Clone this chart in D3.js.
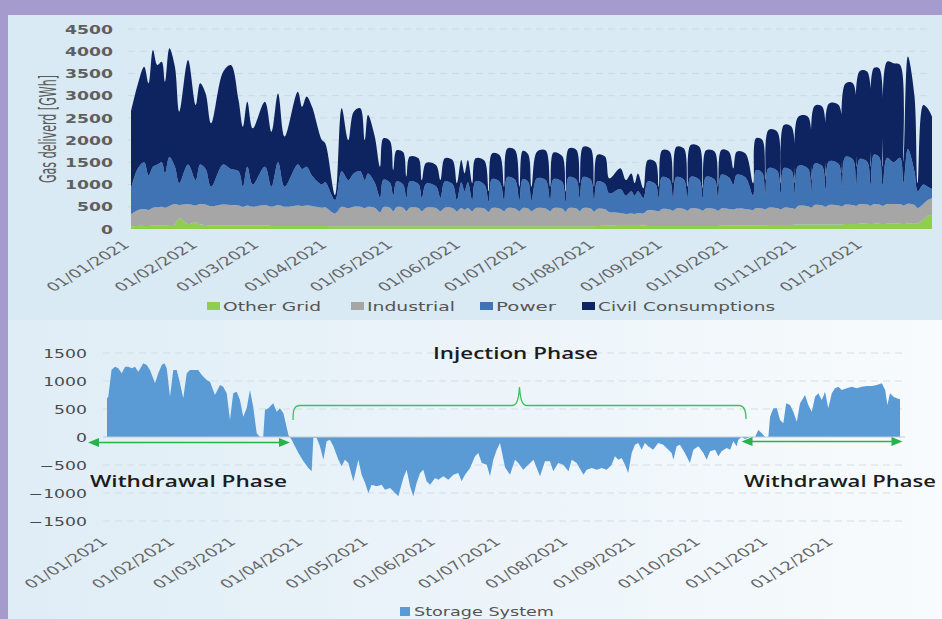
<!DOCTYPE html>
<html>
<head>
<meta charset="utf-8">
<script src="https://d3js.org/d3.v7.min.js"></script>
<style>
body{margin:0;background:#a69bcd;}
svg{display:block;}
text{font-family:"DejaVu Sans",sans-serif;}
</style>
</head>
<body>
<svg id="chart" width="942" height="619"></svg>
<script>
// ---- top chart: gas delivered per sector [GWh], read at weekly peaks / dips (day of 2021)
const topDays = [0,3,6,8,10,12,14,15.5,17.5,20,
  22,26,29.5,31.5,34,36.5,42,45.5,49,51,
  53,55.5,61,64,67,70,76,78,80,82.5,
  87,88.5,93,96,99,101.5,104.5,106.5,108,111,
  113.5,115,118,119.5,121,124,125.5,127,131,132.5,
  134.5,139,141,143,146.5,148.5,150.5,152,153.5,155.5,
  157,161,163,164.5,168,170,171.5,175,177,178.5,
  181,182.5,185,189,191,192.5,196.5,198,199.5,203,
  204.5,206,209.5,211,212.5,216,218,223,225.5,228,
  229.5,231,233.5,235.5,239,240.5,242,245.5,247,248.5,
  252,253.5,255,259,260.5,262,266,267.5,269,272.5,
  274.5,276,280,283.5,284.8,287.7,289,290.5,294.5,296,
  297.5,301,302.5,304,308.5,310,311.5,315,316.5,318,
  322.5,324,325.5,329,330.5,332,335.5,337,338.5,341,
  342.5,344.5,347.5,350.5,352,354,357,358.5,361,363,
  365];
const otherGrid = [60,70,70,70,80,80,80,80,90,100,
  240,110,150,100,90,80,80,80,80,80,
  80,80,80,70,70,70,70,70,70,70,
  70,70,60,60,60,60,60,60,60,60,
  60,60,60,60,60,60,60,60,60,60,
  60,60,60,60,60,60,60,60,60,60,
  60,60,60,60,60,60,60,60,60,60,
  60,60,60,60,60,60,60,60,60,60,
  60,60,60,60,70,75,80,90,90,90,
  90,90,80,70,70,70,70,70,70,70,
  70,70,70,70,70,70,70,70,80,80,
  80,80,80,80,80,80,80,90,90,90,
  90,90,100,100,100,100,100,100,100,100,
  100,100,110,110,110,120,120,110,120,120,
  110,120,120,120,110,130,120,130,200,300,
  320];
const industrial = [270,350,380,360,400,410,420,400,430,460,
  300,450,380,460,460,430,470,460,450,420,
  450,420,460,430,470,430,460,450,460,450,
  410,420,290,440,410,440,440,410,440,420,
  320,430,420,340,430,420,340,420,410,340,
  420,410,340,420,410,340,410,370,410,340,
  410,400,320,410,400,340,410,400,340,410,
  400,340,410,400,340,410,400,330,410,400,
  340,410,400,330,380,370,300,270,250,260,
  250,270,270,350,340,330,380,370,340,390,
  380,340,390,380,340,390,380,340,380,370,
  360,380,370,350,390,380,360,390,380,350,
  390,380,350,420,410,380,440,430,400,440,
  430,410,440,430,410,440,430,410,440,430,
  410,440,440,440,420,440,420,340,360,350,
  380];
const power = [570,930,1050,770,920,960,1000,770,1100,840,
  490,890,570,890,800,440,900,810,770,450,
  870,500,860,450,960,450,920,830,870,680,
  520,560,300,800,630,750,800,630,750,570,
  320,620,560,350,580,520,300,590,540,300,
  540,490,300,590,540,250,580,420,580,250,
  600,540,240,650,600,250,700,650,250,650,
  600,250,670,640,250,650,600,230,700,650,
  300,700,650,260,620,570,420,540,410,500,
  410,490,350,650,600,300,720,670,290,710,
  660,290,710,660,290,710,660,310,760,710,
  560,760,710,320,850,800,360,890,840,360,
  890,840,350,900,850,370,930,880,400,980,
  930,440,1070,1020,480,1010,960,480,1110,1060,
  480,1040,940,1040,520,1230,760,380,440,300,
  200];
const civil = [1740,1890,2150,2080,2630,2240,2265,2065,2445,2250,
  1610,2350,1690,1830,1700,1430,2090,2340,1600,1350,
  1465,1265,1465,1240,1550,1130,1640,1400,1580,1550,
  1000,880,110,1415,900,1390,1415,900,1315,1050,
  700,930,940,580,700,730,480,560,580,400,
  470,480,400,520,540,380,500,400,500,380,
  520,540,230,580,600,300,640,665,300,640,
  620,300,600,665,300,600,580,220,640,665,
  330,680,700,300,600,615,340,465,350,400,
  280,400,215,480,500,250,600,630,330,680,
  700,250,720,740,215,600,630,230,560,580,
  365,520,540,280,720,740,300,860,880,230,
  970,990,230,1100,1165,250,1300,1340,280,1300,
  1330,300,1650,1715,400,1980,2030,400,1950,2000,
  400,2165,2230,2090,450,2080,1700,180,1790,1765,
  1630];
const seriesNames = ["Other Grid","Industrial","Power","Civil Consumptions"];
const seriesColors = ["#8fcf4d","#a6a6a6","#3f73b3","#0d2461"];
const topTicks = [0,500,1000,1500,2000,2500,3000,3500,4000,4500];

// ---- bottom chart: storage system (withdrawal > 0, injection < 0)
const storageDays = [0,0.6,2.1,3.7,5.2,6.8,8.3,9.8,11.4,12.9,
  14.4,16.7,18.3,19.8,22.1,23.6,25.2,26.4,27.5,29,
  30.5,32.1,33.6,35.1,36.7,38.2,40.5,42,43.6,45.9,
  47.4,49.7,52,53.5,55.1,56.6,58.1,59.7,61.2,62.7,
  64.3,65.8,67.3,68.9,70.4,71.9,72.7,74.3,76.5,78.1,
  79.6,81.2,83.5,85,86.5,88.1,90.4,92.7,94.2,95,
  96.5,98,99.6,101.1,102.6,104.2,106.5,108,109.5,111.1,
  113.4,115.7,117.2,118.8,120.3,121.8,124.1,126.4,128,130.3,
  132.6,134.1,136.4,137.9,139.5,141,142.5,144.1,145.6,147.1,
  148.7,151,152.5,154.8,157.1,159.4,161.7,163.2,164.8,167.1,
  169.4,170.9,172.5,174.8,176.3,177.8,179.4,180.9,183.2,185.5,
  187.8,189.3,191.6,193.9,196.3,197.8,199.3,201.6,203.9,205.4,
  207.7,210,212.4,213.9,216.2,219.3,220.8,223.1,225.4,227.7,
  230,232.3,233.8,235.4,236.9,238.4,239.9,241.5,243,244.5,
  246.1,247.6,249.1,251.4,253.7,256,258.4,259.9,260.7,262.2,
  263.7,266,268.3,269.9,272.2,274.5,276,277.6,279.9,281.4,
  282.9,285.2,286.8,288.3,289.8,290.6,292.1,293.7,296,298.3,
  299.8,301.4,302.9,304.4,305.2,306.7,308.3,309.8,311.3,312.6,
  314.4,315.9,317.5,319,321.3,322.8,324.4,325.9,327.4,329,
  330.5,332,333.6,335.1,336.6,338.2,340.5,342.8,345.1,347.4,
  349.7,352,354.3,356.6,358.2,359.2,360.4,362,363.5,365];
const storage = [690,720,1200,1256,1227,1137,1256,1256,1227,1256,
  1167,1316,1286,1197,958,1137,1286,1316,1227,720,
  1197,1197,958,690,1137,1197,1197,1197,1108,1018,
  988,750,929,899,780,304,780,810,661,363,
  512,840,542,65,0,0,482,512,601,452,
  512,423,36,-48,-167,-286,-435,-554,-613,-10,
  -18,-167,-405,-77,-48,-167,-405,-524,-405,-464,
  -792,-405,-673,-821,-1000,-851,-881,-851,-940,-911,
  -1000,-1060,-732,-583,-881,-1060,-821,-643,-583,-792,
  -851,-732,-762,-702,-762,-673,-643,-792,-673,-554,
  -345,-286,-464,-494,-702,-405,-226,-107,-540,-673,
  -405,-464,-583,-494,-405,-554,-702,-435,-435,-613,
  -464,-494,-613,-405,-464,-673,-583,-554,-583,-554,
  -583,-494,-345,-405,-375,-494,-643,-286,-137,-107,
  -226,-107,-167,-226,-107,-137,-226,-286,-405,-167,
  -137,-286,-464,-226,-167,-286,-405,-256,-226,-345,
  -256,-196,-226,-77,-167,-48,0,-36,0,0,
  125,65,0,0,363,512,512,304,244,601,
  572,452,274,601,750,572,452,720,780,661,
  810,512,780,869,899,840,869,899,869,899,
  911,911,929,958,840,572,780,720,691,673];
const bottomTicks = [-1500,-1000,-500,0,500,1000,1500];
const monthLabels = ["01/01/2021","01/02/2021","01/03/2021","01/04/2021","01/05/2021","01/06/2021",
  "01/07/2021","01/08/2021","01/09/2021","01/10/2021","01/11/2021","01/12/2021"];

const SX = 1.5; // the picture is stretched sideways, text too
const svg = d3.select("#chart");
const dayToDate = d => new Date(Date.UTC(2021,0,1) + d*864e5);
const months = d3.utcMonth.range(dayToDate(0), dayToDate(335));

// backgrounds
svg.append("rect").attr("width",942).attr("height",619).attr("fill","#a69bcd");
svg.append("rect").attr("x",8).attr("y",15).attr("width",934).attr("height",305).attr("fill","#d9eaf4");
const grad = svg.append("defs").append("linearGradient").attr("id","bg2");
grad.append("stop").attr("offset","0%").attr("stop-color","#dfedf6");
grad.append("stop").attr("offset","100%").attr("stop-color","#f8fbfd");
svg.append("rect").attr("x",8).attr("y",320).attr("width",934).attr("height",299).attr("fill","url(#bg2)");

// ================= TOP =================
const x1 = d3.scaleUtc().domain([dayToDate(0), dayToDate(365)]).range([131,932]);
const y1 = d3.scaleLinear().domain([0,4500]).range([229,29]);

svg.append("g").selectAll("line").data(topTicks.slice(1)).join("line")
  .attr("x1",128).attr("x2",932)
  .attr("y1",d=>y1(d)).attr("y2",d=>y1(d))
  .attr("stroke","#c9dae6").attr("stroke-dasharray","7,5");

const table = topDays.map((d,i)=>({date:dayToDate(d), other:otherGrid[i], industrial:industrial[i], power:power[i], civil:civil[i]}));
const layers = d3.stack().keys(["other","industrial","power","civil"])(table);
const area1 = d3.area()
  .curve(d3.curveCatmullRom.alpha(0.5))
  .x(d=>x1(d.data.date))
  .y0(d=>y1(d[0]))
  .y1(d=>y1(d[1]));
svg.append("g").selectAll("path").data(layers).join("path")
  .attr("d",area1)
  .attr("fill",(d,i)=>seriesColors[i]);

const yAx1 = svg.append("g").attr("transform","translate(131,0)")
  .call(d3.axisLeft(y1).tickValues(topTicks).tickSize(0).tickFormat(d3.format("d")));
yAx1.select(".domain").remove();
yAx1.attr("font-family",null).attr("font-size",null);
yAx1.selectAll("text")
  .attr("x",0).attr("dy","0.36em")
  .attr("transform",`translate(-18,0) scale(${SX},1)`)
  .style("font-size","11.5px").style("font-weight","bold").attr("fill","#5f5f5f");

const xAx1 = svg.append("g")
  .call(d3.axisBottom(x1).tickValues(months).tickSize(0).tickFormat((d,i)=>monthLabels[i]));
xAx1.select(".domain").remove();
xAx1.attr("font-family",null).attr("font-size",null);
xAx1.selectAll("text")
  .attr("x",0).attr("y",0).attr("dy",0)
  .attr("text-anchor","end")
  .attr("transform",`translate(-1,246) scale(${SX},1) rotate(-42)`)
  .style("font-size","12px").attr("fill","#666");

svg.append("text")
  .attr("transform",`translate(48,129) scale(${SX},1) rotate(-90)`)
  .attr("text-anchor","middle").attr("dy","0.35em")
  .attr("textLength",108).attr("lengthAdjust","spacingAndGlyphs")
  .style("font-size","15.5px").attr("fill","#5a5a5a")
  .text("Gas deliverd [GWh]");

// legend top
const legX = [207,351,480,582];
const legW = [98,88,60,177];
const leg1 = svg.append("g").selectAll("g").data(seriesNames).join("g")
  .attr("transform",(d,i)=>`translate(${legX[i]},302)`);
leg1.append("rect").attr("width",13).attr("height",8).attr("fill",(d,i)=>seriesColors[i]);
leg1.append("text").attr("x",16).attr("y",8.5)
  .attr("textLength",(d,i)=>legW[i]).attr("lengthAdjust","spacingAndGlyphs")
  .style("font-size","11.5px").attr("fill","#555")
  .text(d=>d);

// ================= BOTTOM =================
const x2 = d3.scaleUtc().domain([dayToDate(0), dayToDate(365)]).range([107,900]);
const y2 = d3.scaleLinear().domain([-1500,1500]).range([521,353]);

svg.append("g").selectAll("line").data(bottomTicks.filter(d=>d!==0)).join("line")
  .attr("x1",103).attr("x2",905)
  .attr("y1",d=>y2(d)).attr("y2",d=>y2(d))
  .attr("stroke","#d3dee6").attr("stroke-dasharray","7,5");

const stData = storageDays.map((d,i)=>({date:dayToDate(d), v:storage[i]}));
const area2 = d3.area()
  .x(d=>x2(d.date))
  .y0(y2(0))
  .y1(d=>y2(d.v));
svg.append("path").datum(stData).attr("d",area2).attr("fill","#5b9bd5");

svg.append("line").attr("x1",103).attr("x2",905).attr("y1",y2(0)).attr("y2",y2(0))
  .attr("stroke","#c3cbd2").attr("stroke-width",1);

const yAx2 = svg.append("g").attr("transform","translate(107,0)")
  .call(d3.axisLeft(y2).tickValues(bottomTicks).tickSize(0).tickFormat(d3.format("d")));
yAx2.select(".domain").remove();
yAx2.attr("font-family",null).attr("font-size",null);
yAx2.selectAll("text")
  .attr("x",0).attr("dy","0.36em")
  .attr("transform",`translate(-20,0) scale(${SX},1)`)
  .style("font-size","11.5px").attr("fill","#4a4a4a");

const xAx2 = svg.append("g")
  .call(d3.axisBottom(x2).tickValues(months).tickSize(0).tickFormat((d,i)=>monthLabels[i]));
xAx2.select(".domain").remove();
xAx2.attr("font-family",null).attr("font-size",null);
xAx2.selectAll("text")
  .attr("x",0).attr("y",0).attr("dy",0)
  .attr("text-anchor","end")
  .attr("transform",`translate(1,543) scale(${SX},1) rotate(-42)`)
  .style("font-size","12px").attr("fill","#666");

// phase annotations
const green = "#27b24b";
function arrow(xa, xb, y){
  const g = svg.append("g");
  g.append("line").attr("x1",xa+8).attr("x2",xb-8).attr("y1",y).attr("y2",y)
    .attr("stroke",green).attr("stroke-width",1.6);
  g.append("path").attr("d",`M${xa},${y}L${xa+11},${y-4.5}L${xa+11},${y+4.5}Z`).attr("fill",green);
  g.append("path").attr("d",`M${xb},${y}L${xb-11},${y-4.5}L${xb-11},${y+4.5}Z`).attr("fill",green);
}
arrow(88, 290, 442.5);
arrow(741.5, 902.5, 441.5);

svg.append("path")
  .attr("d","M293,420C293,410 294,405.5 300,405.5L512,405.5C516.5,405.5 518.5,401 519.5,387C520.5,401 522.5,405.5 527,405.5L739,405.5C744,405.5 746,410 746,419")
  .attr("fill","none").attr("stroke","#3cc060").attr("stroke-width",1.3);

const note = (x, y, w, t) => svg.append("text").attr("x",x).attr("y",y)
  .attr("textLength",w).attr("lengthAdjust","spacingAndGlyphs")
  .style("font-family","'Open Sans',sans-serif").style("font-size","16.5px").style("font-weight","600")
  .attr("fill","#1c1c1c").text(t);
note(433, 359, 165, "Injection Phase");
note(90, 487, 197, "Withdrawal Phase");
note(744, 487, 192, "Withdrawal Phase");

// legend bottom, sitting on the picture's lower edge
svg.append("rect").attr("x",400).attr("y",607).attr("width",10).attr("height",9).attr("fill","#5b9bd5");
svg.append("text").attr("x",414).attr("y",616)
  .attr("textLength",140).attr("lengthAdjust","spacingAndGlyphs")
  .style("font-size","12.5px").attr("fill","#555")
  .text("Storage System");
</script>
</body>
</html>
